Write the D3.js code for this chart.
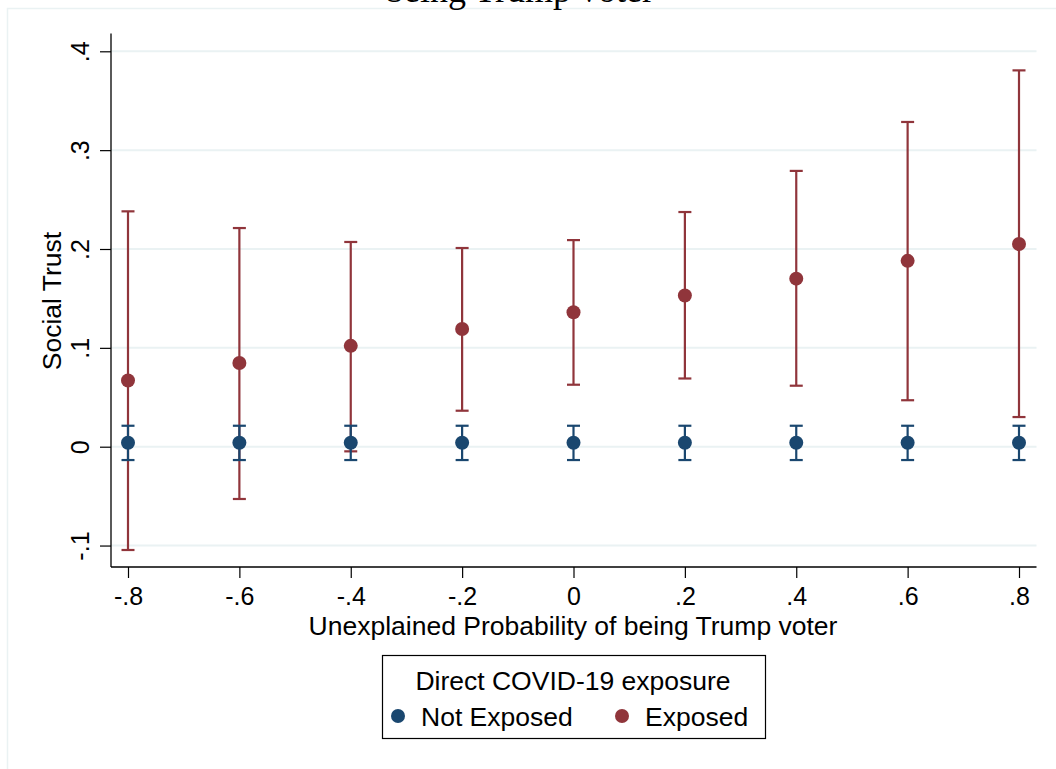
<!DOCTYPE html>
<html><head><meta charset="utf-8">
<script src="https://cdn.jsdelivr.net/npm/d3@7"></script>
<style>body{margin:0;background:#fff}svg{display:block}text{font-family:"Liberation Sans",Arial,sans-serif;fill:#000}</style>
</head><body>
<svg id="c" width="1056" height="769"></svg>
<script>
const xValues = [-0.8, -0.6, -0.4, -0.2, 0, 0.2, 0.4, 0.6, 0.8];
const notExposedEst = [0.004, 0.004, 0.004, 0.004, 0.004, 0.004, 0.004, 0.004, 0.004];
const notExposedLo  = [-0.0135, -0.0135, -0.0135, -0.0135, -0.0135, -0.0135, -0.0135, -0.0135, -0.0135];
const notExposedHi  = [0.0212, 0.0212, 0.0212, 0.0212, 0.0212, 0.0212, 0.0212, 0.0212, 0.0212];
const exposedEst = [0.067, 0.0847, 0.102, 0.119, 0.136, 0.153, 0.170, 0.188, 0.205];
const exposedLo  = [-0.1045, -0.0529, -0.0047, 0.0364, 0.0627, 0.069, 0.0617, 0.047, 0.030];
const exposedHi  = [0.2381, 0.2212, 0.2071, 0.201, 0.209, 0.2374, 0.279, 0.3285, 0.3807];
const yTicks = [-0.1, 0, 0.1, 0.2, 0.3, 0.4];
const yTickLabels = ["-.1", "0", ".1", ".2", ".3", ".4"];
const xTickLabels = ["-.8", "-.6", "-.4", "-.2", "0", ".2", ".4", ".6", ".8"];
const seriesNames = ["Not Exposed", "Exposed"];
const colors = ["#1a476f", "#90353b"];

const svg = d3.select("#c");
const x = d3.scaleLinear().domain([-0.8, 0.8]).range([128, 1019]);
const y = d3.scaleLinear().domain([0, 0.4]).range([446.7, 51.3]);
const plotLeft = 111, plotRight = 1036.5, plotTop = 33.5, plotBottom = 567;

// outer light border
svg.append("path").attr("d", `M7.5,769 V8.5 H1056`).attr("fill","none").attr("stroke","#eaf2f3").attr("stroke-width",1.5);

// title (cut off at top edge, as in the reference)
svg.append("text").attr("x", 520).attr("y", 2).attr("text-anchor","middle")
  .style("font-family","'Liberation Serif','Times New Roman',serif").style("font-size","36px").text("being Trump voter");

// gridlines
svg.append("g").selectAll("line").data(yTicks).join("line")
  .attr("x1", plotLeft).attr("x2", plotRight).attr("y1", d=>y(d)).attr("y2", d=>y(d))
  .attr("stroke","#eaf2f3").attr("stroke-width",2);

// y axis
const yAxis = d3.axisLeft(y).tickValues(yTicks).tickSize(11).tickFormat((d,i)=>yTickLabels[i]);
const gy = svg.append("g").attr("transform",`translate(${plotLeft},0)`).call(yAxis);
gy.select(".domain").remove();
gy.selectAll(".tick line").attr("stroke","#000").attr("stroke-width",1.2);
gy.selectAll(".tick text").attr("x",null).attr("dy",null)
  .attr("transform","translate(-22,0) rotate(-90)").attr("text-anchor","middle")
  .style("font-size","25px").style("font-family","'Liberation Sans',Arial,sans-serif");
svg.append("line").attr("x1",plotLeft).attr("x2",plotLeft).attr("y1",plotTop).attr("y2",plotBottom).attr("stroke","#000").attr("stroke-width",1.3);

// x axis
const xAxis = d3.axisBottom(x).tickValues(xValues).tickSize(11).tickFormat((d,i)=>xTickLabels[i]);
const gx = svg.append("g").attr("transform",`translate(0,${plotBottom})`).call(xAxis);
gx.select(".domain").remove();
gx.selectAll(".tick line").attr("stroke","#000").attr("stroke-width",1.2);
gx.selectAll(".tick text").attr("y",38).attr("dy",null)
  .style("font-size","25px").style("font-family","'Liberation Sans',Arial,sans-serif");
svg.append("line").attr("x1",plotLeft).attr("x2",plotRight).attr("y1",plotBottom).attr("y2",plotBottom).attr("stroke","#000").attr("stroke-width",1.3);

// axis titles
svg.append("text").attr("x",573).attr("y",635).attr("text-anchor","middle").style("font-size","26.5px")
  .text("Unexplained Probability of being Trump voter");
svg.append("text").attr("transform","translate(61,301) rotate(-90)").attr("text-anchor","middle").style("font-size","26.5px")
  .text("Social Trust");

// series
const series = [
  {est: notExposedEst, lo: notExposedLo, hi: notExposedHi, color: colors[0]},
  {est: exposedEst, lo: exposedLo, hi: exposedHi, color: colors[1]}
];
const capW = 6.5;
series.slice().reverse().forEach(s => {
  const g = svg.append("g").attr("stroke", s.color).attr("stroke-width", 2.2).attr("fill","none");
  xValues.forEach((xv,i) => {
    const cx = x(xv);
    g.append("line").attr("x1",cx).attr("x2",cx).attr("y1",y(s.lo[i])).attr("y2",y(s.hi[i]));
    g.append("line").attr("x1",cx-capW).attr("x2",cx+capW).attr("y1",y(s.lo[i])).attr("y2",y(s.lo[i]));
    g.append("line").attr("x1",cx-capW).attr("x2",cx+capW).attr("y1",y(s.hi[i])).attr("y2",y(s.hi[i]));
  });
});
series.slice().reverse().forEach(s => {
  svg.append("g").selectAll("circle").data(xValues).join("circle")
    .attr("cx", d=>x(d)).attr("cy", (d,i)=>y(s.est[i])).attr("r", 7).attr("fill", s.color);
});

// legend
svg.append("rect").attr("x",382.5).attr("y",655.5).attr("width",383).attr("height",83)
  .attr("fill","#fff").attr("stroke","#000").attr("stroke-width",1.2);
svg.append("text").attr("x",573).attr("y",689.5).attr("text-anchor","middle").style("font-size","26.5px")
  .text("Direct COVID-19 exposure");
const legX = [398, 622];
seriesNames.forEach((n,i) => {
  svg.append("circle").attr("cx",legX[i]).attr("cy",716).attr("r",7).attr("fill",colors[i]);
  svg.append("text").attr("x",legX[i]+23).attr("y",725.5).style("font-size","26.5px").text(n);
});
</script>
</body></html>
